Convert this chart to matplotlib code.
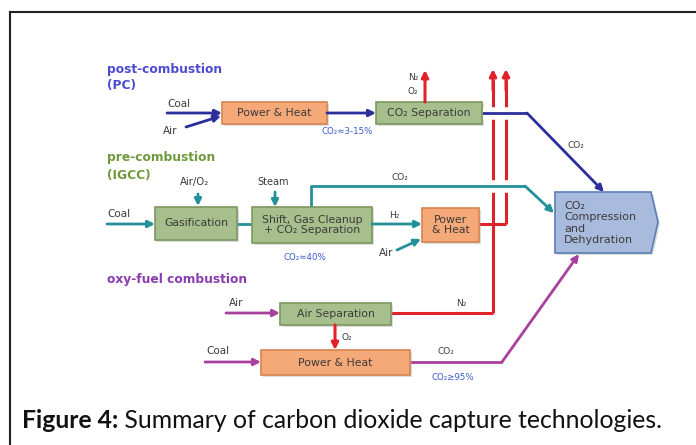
import matplotlib.pyplot as plt
import matplotlib.patheffects as pe
from matplotlib.patches import Rectangle, Polygon

# Labels used in the diagram
section_titles = ["post-combustion", "(PC)", "pre-combustion", "(IGCC)", "oxy-fuel combustion"]
box_labels = ["Power & Heat", "CO\u2082 Separation", "Gasification",
              "Shift, Gas Cleanup\n+ CO\u2082 Separation", "Power\n& Heat",
              "Air Separation", "Power & Heat"]
purity_labels = ["CO\u2082\u22483-15%", "CO\u2082\u224840%", "CO\u2082\u226595%"]
caption_bold = "Figure 4:"
caption_text = " Summary of carbon dioxide capture technologies."

BLUE = "#2b2f9c"
TEAL = "#23909a"
MAG = "#a8409e"
RED = "#e0232b"
ORANGE = ("#f5a878", "#d7834f")
GREEN = ("#a7bf8c", "#7b975f")
LBLUE = ("#a9bbdd", "#5a7fb6")
TXT = "#3a3a3a"
PCT = "#3a5bc8"

fig = plt.figure(figsize=(6.96, 4.45), dpi=100)
ax = fig.add_axes([0, 0, 1, 1])
ax.set_xlim(0, 696)
ax.set_ylim(445, 0)
ax.axis("off")

# frame
ax.plot([10, 696], [12, 12], color="#222222", lw=1.5)
ax.plot([10, 10], [12, 445], color="#222222", lw=1.5)


def box(x0, y0, x1, y1, colors, label, fs=7.8):
    ax.add_patch(Rectangle((x0 + 2, y0 + 2), x1 - x0, y1 - y0, fc="#999999", ec="none", alpha=0.35, zorder=3))
    ax.add_patch(Rectangle((x0, y0), x1 - x0, y1 - y0, fc=colors[0], ec=colors[1], lw=1.2, zorder=4))
    ax.text((x0 + x1) / 2, (y0 + y1) / 2, label, ha="center", va="center", fontsize=fs,
            color=TXT, zorder=5, linespacing=1.05)


def arrow(p0, p1, c, lw=2.0, z=6):
    ax.annotate("", xy=p1, xytext=p0, zorder=z,
                arrowprops=dict(arrowstyle="-|>", color=c, lw=lw, mutation_scale=10,
                                shrinkA=0, shrinkB=0))


def line(xs, ys, c, lw=2.0, z=2, gap=False):
    effects = [pe.Stroke(linewidth=9, foreground="white"), pe.Normal()] if gap else None
    ax.plot(xs, ys, color=c, lw=lw, zorder=z, solid_capstyle="butt", path_effects=effects)


def small(x, y, s, fs=7.5, c=TXT, ha="left"):
    ax.text(x, y, s, fontsize=fs, color=c, ha=ha, va="center", zorder=7)


# section titles
title_y = [70, 86, 158, 175, 280]
title_c = ["#4b4bd2", "#4b4bd2", "#6e9a3c", "#6e9a3c", "#8a3cae"]
for s, y, c in zip(section_titles, title_y, title_c):
    ax.text(107, y, s, fontsize=8.8, fontweight="bold", color=c, va="center")

# red vent lines (drawn first so crossings get gaps)
arrow((425, 102), (425, 70), RED, lw=2.2)
small(408, 77, "N\u2082", fs=6.5)
small(408, 92, "O\u2082", fs=6.5)
line([493, 493], [80, 313], RED, lw=2.2, z=2)
line([506, 506], [80, 224], RED, lw=2.2, z=2)
arrow((493, 90), (493, 69), RED, lw=2.2)
arrow((506, 90), (506, 69), RED, lw=2.2)
line([479, 506], [224, 224], RED, lw=2.2, z=2)
line([391, 493], [313, 313], RED, lw=2.2, z=2)
small(456, 304, "N\u2082", fs=6.5)
arrow((335, 325), (335, 350), RED, lw=2.2)
small(342, 338, "O\u2082", fs=6.5)

# post-combustion
small(167, 104, "Coal")
arrow((167, 113), (222, 113), BLUE)
small(163, 131, "Air")
arrow((186, 127), (221, 116), BLUE)
box(222, 102, 327, 124, ORANGE, box_labels[0])
arrow((327, 113), (376, 113), BLUE)
small(321, 131, purity_labels[0], fs=6.2, c=PCT)
box(376, 102, 482, 124, GREEN, box_labels[1])
line([482, 527], [113, 113], BLUE, z=3, gap=True)
arrow((527, 113), (604, 192), BLUE, z=3)
small(568, 146, "CO\u2082", fs=6.5)

# pre-combustion
small(180, 182, "Air/O\u2082", fs=7.3)
arrow((198, 194), (198, 206), TEAL)
small(257, 182, "Steam", fs=7)
arrow((275, 192), (275, 207), TEAL)
small(107, 214, "Coal")
arrow((107, 224), (155, 224), TEAL)
box(155, 207, 237, 240, GREEN, box_labels[2])
line([237, 252], [224, 224], TEAL)
box(252, 207, 372, 243, GREEN, box_labels[3])
line([311, 311, 525], [207, 186, 186], TEAL, z=3, gap=True)
arrow((525, 186), (554, 213), TEAL, z=3)
small(392, 177, "CO\u2082", fs=6.5)
arrow((372, 224), (422, 224), TEAL)
small(389, 216, "H\u2082", fs=6.5)
small(379, 253, "Air")
arrow((397, 250), (421, 239), TEAL)
small(283, 257, purity_labels[1], fs=6.2, c=PCT)
box(422, 208, 479, 242, ORANGE, box_labels[4])

# compression unit
ax.add_patch(Polygon([(557, 194), (653, 194), (660, 224), (653, 255), (557, 255)],
                     closed=True, fc="#999999", ec="none", alpha=0.35, zorder=3))
ax.add_patch(Polygon([(555, 192), (651, 192), (658, 222), (651, 253), (555, 253)],
                     closed=True, fc=LBLUE[0], ec=LBLUE[1], lw=1.2, zorder=4))
ax.text(564, 223, "CO\u2082\nCompression\nand\nDehydration", fontsize=8, color=TXT,
        va="center", ha="left", zorder=5, linespacing=1.15)

# oxy-fuel
small(229, 303, "Air")
arrow((226, 313), (280, 313), MAG)
box(280, 303, 391, 325, GREEN, box_labels[5])
small(206, 351, "Coal")
arrow((205, 362), (261, 362), MAG)
box(261, 350, 410, 375, ORANGE, box_labels[6])
line([410, 502], [362, 362], MAG)
arrow((502, 362), (579, 254), MAG)
small(437, 352, "CO\u2082", fs=6.5)
small(432, 377, purity_labels[2], fs=6.2, c=PCT)

# caption
t = ax.text(22, 420, caption_bold, fontsize=17.8, fontweight="bold", family="Lato",
            va="center", color="#111111")
fig.canvas.draw()
bb = t.get_window_extent()
x_end = ax.transData.inverted().transform((bb.x1, bb.y0))[0]
ax.text(x_end, 420, caption_text, fontsize=17.8, family="Lato", va="center", color="#111111")

fig.savefig("out.png", dpi=100)
